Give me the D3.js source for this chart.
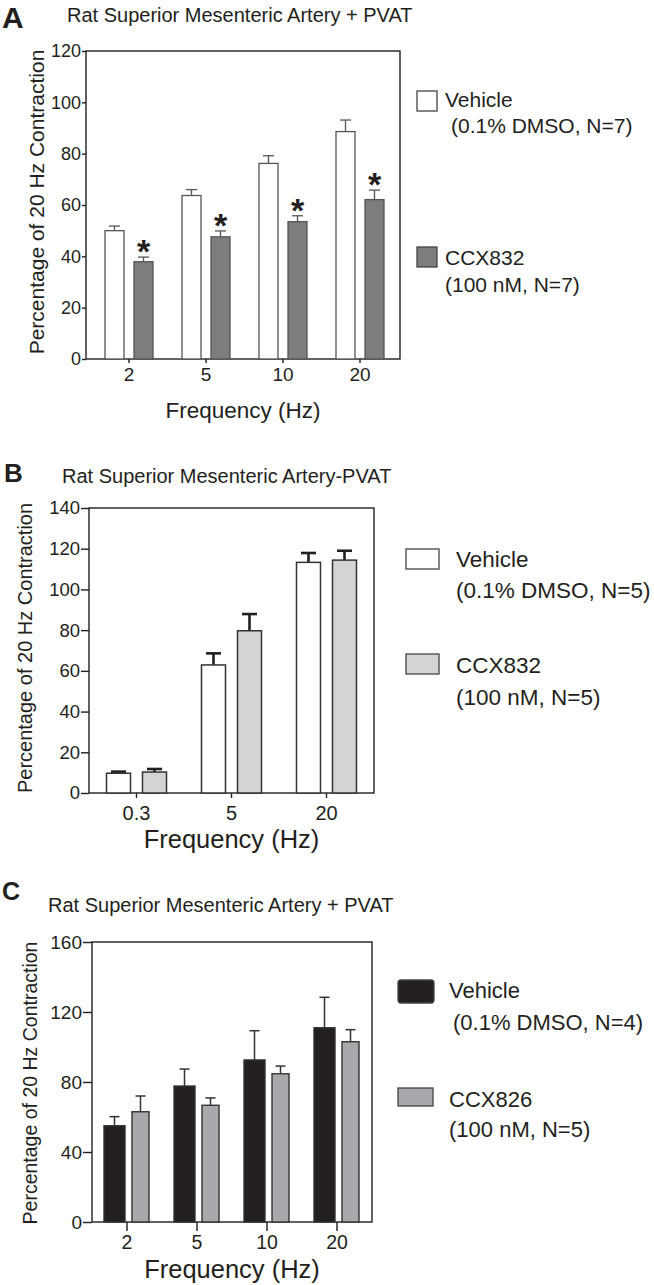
<!DOCTYPE html>
<html>
<head>
<meta charset="utf-8">
<script src="https://cdn.jsdelivr.net/npm/d3@7"></script>
<style>
  body { margin: 0; background: #fff; }
  svg { display: block; font-family: "Liberation Sans", Arial, sans-serif; }
</style>
</head>
<body>
<div id="chart"></div>
<script>
// ---- data ----
const freqA = ["2", "5", "10", "20"];
const vehA = [50, 63.7, 76.2, 88.6];
const vehErrA = [1.8, 2.3, 3.0, 4.5];
const drugA = [37.9, 47.6, 53.5, 62.1];
const drugErrA = [1.8, 2.3, 2.3, 3.7];
const sigA = [true, true, true, true];
const yTicksA = [0, 20, 40, 60, 80, 100, 120];
const legendA = [["Vehicle", "(0.1% DMSO, N=7)"], ["CCX832", "(100 nM, N=7)"]];

const freqB = ["0.3", "5", "20"];
const vehB = [9.7, 62.9, 113.3];
const vehErrB = [0.8, 5.7, 4.6];
const drugB = [10.3, 79.7, 114.4];
const drugErrB = [1.5, 8.2, 4.6];
const sigB = [false, false, false];
const yTicksB = [0, 20, 40, 60, 80, 100, 120, 140];
const legendB = [["Vehicle", "(0.1% DMSO, N=5)"], ["CCX832", "(100 nM, N=5)"]];

const freqC = ["2", "5", "10", "20"];
const vehC = [55.0, 77.7, 92.6, 111.0];
const vehErrC = [5.2, 9.7, 16.7, 17.4];
const drugC = [63.0, 66.7, 84.7, 103.0];
const drugErrC = [9.0, 4.2, 4.4, 6.9];
const sigC = [false, false, false, false];
const yTicksC = [0, 40, 80, 120, 160];
const legendC = [["Vehicle", "(0.1% DMSO, N=4)"], ["CCX826", "(100 nM, N=5)"]];

const ink = "#231f20";

const width = 654, height = 1285;
const svg = d3.select("#chart").append("svg")
    .attr("width", width)
    .attr("height", height)
    .attr("viewBox", [0, 0, width, height]);

const panels = [
  {
    letter: "A", letterSize: 30, letterPos: [2, 28],
    title: "Rat Superior Mesenteric Artery + PVAT", titlePos: [67, 22],
    frame: {left: 86, right: 400, top: 51, bottom: 359}, xRange: [90.5, 398.5],
    freq: freqA, veh: vehA, vehErr: vehErrA, drug: drugA, drugErr: drugErrA, sig: sigA,
    yMax: 120, yTicks: yTicksA,
    barW: [19, 19], gap: 10, shift: 0,
    vehFill: "#fff", drugFill: "#7d7d80", barStroke: "#555", barStrokeW: 1.3,
    errStroke: "#555", errW: 1.3, capHalf: 5.5,
    yTickSize: 4, yTickPad: 1, yTickFont: 18, xTickSize: 4, xTickPad: 5, xTickFont: 19,
    yLabel: {x: 44, y: 202, size: 21},
    xLabel: {y: 418, size: 22.5},
    legend: legendA, legendFont: 21,
    legendBoxes: [{x: 417, y: 91, w: 20, h: 20, fill: "#fff", rx: 0},
                  {x: 417, y: 247, w: 20, h: 20, fill: "#7d7d80", rx: 0}],
    legendText: [[445, 107, 451, 133], [445, 265, 445, 292]]
  },
  {
    letter: "B", letterSize: 26, letterPos: [4, 482],
    title: "Rat Superior Mesenteric Artery-PVAT", titlePos: [62, 483],
    frame: {left: 89, right: 374, top: 508, bottom: 793}, xRange: [89, 374],
    freq: freqB, veh: vehB, vehErr: vehErrB, drug: drugB, drugErr: drugErrB, sig: sigB,
    yMax: 140, yTicks: yTicksB,
    barW: [24, 24], gap: 12, shift: 0,
    vehFill: "#fff", drugFill: "#d4d4d6", barStroke: "#333", barStrokeW: 1.5,
    errStroke: ink, errW: 2.6, capHalf: 7.5,
    yTickSize: 8, yTickPad: 1, yTickFont: 18.5, xTickSize: 5, xTickPad: 8, xTickFont: 20,
    yLabel: {x: 32, y: 648, size: 20},
    xLabel: {y: 848, size: 25.5},
    legend: legendB, legendFont: 22.5,
    legendBoxes: [{x: 406, y: 549, w: 33, h: 20, fill: "#fff", rx: 0},
                  {x: 406, y: 654, w: 33, h: 20, fill: "#d4d4d6", rx: 0}],
    legendText: [[456, 567, 456, 598], [456, 673, 456, 705]]
  },
  {
    letter: "C", letterSize: 25, letterPos: [2, 900],
    title: "Rat Superior Mesenteric Artery + PVAT", titlePos: [48, 912],
    frame: {left: 92, right: 372, top: 942, bottom: 1222}, xRange: [92, 372],
    freq: freqC, veh: vehC, vehErr: vehErrC, drug: drugC, drugErr: drugErrC, sig: sigC,
    yMax: 160, yTicks: yTicksC,
    barW: [21, 17], gap: 7, shift: 1.5,
    vehFill: ink, drugFill: "#a7a9ac", barStroke: "#333", barStrokeW: 1.4,
    errStroke: "#333", errW: 1.5, capHalf: 5,
    yTickSize: 9, yTickPad: 1, yTickFont: 19, xTickSize: 9, xTickPad: 4, xTickFont: 19.5,
    yLabel: {x: 37, y: 1083, size: 19.5},
    xLabel: {y: 1278, size: 25.5},
    legend: legendC, legendFont: 22,
    legendBoxes: [{x: 398, y: 980, w: 36, h: 23, fill: ink, rx: 3},
                  {x: 398, y: 1088, w: 35, h: 18, fill: "#a7a9ac", rx: 0}],
    legendText: [[449, 998, 453, 1030], [449, 1107, 449, 1137]]
  }
];

panels.forEach(drawPanel);

function drawPanel(p) {
  const g = svg.append("g");
  const f = p.frame;

  g.append("text")
      .attr("x", p.letterPos[0]).attr("y", p.letterPos[1])
      .attr("font-size", p.letterSize).attr("font-weight", "bold")
      .attr("fill", ink).text(p.letter);

  g.append("text")
      .attr("x", p.titlePos[0]).attr("y", p.titlePos[1])
      .attr("font-size", 20).attr("fill", ink).text(p.title);

  const x = d3.scaleBand()
      .domain(p.freq)
      .range(p.xRange);

  const y = d3.scaleLinear()
      .domain([0, p.yMax])
      .range([f.bottom, f.top]);

  // y axis
  g.append("g")
      .attr("transform", `translate(${f.left},0)`)
      .call(d3.axisLeft(y).tickValues(p.yTicks).tickSize(p.yTickSize)
            .tickPadding(p.yTickPad).tickSizeOuter(0))
      .call(a => a.select(".domain").remove())
      .call(a => a.selectAll("line").attr("stroke", ink).attr("stroke-width", 1.4))
      .call(a => a.selectAll("text").attr("font-size", p.yTickFont)
            .attr("fill", ink).attr("font-family", "Liberation Sans, Arial, sans-serif"));

  // x axis
  g.append("g")
      .attr("transform", `translate(0,${f.bottom})`)
      .call(d3.axisBottom(x).tickSize(p.xTickSize).tickPadding(p.xTickPad).tickSizeOuter(0))
      .call(a => a.select(".domain").remove())
      .call(a => a.selectAll("line").attr("stroke", ink).attr("stroke-width", 1.4))
      .call(a => a.selectAll("text").attr("font-size", p.xTickFont)
            .attr("fill", ink).attr("font-family", "Liberation Sans, Arial, sans-serif"));

  // frame
  g.append("rect")
      .attr("x", f.left).attr("y", f.top)
      .attr("width", f.right - f.left).attr("height", f.bottom - f.top)
      .attr("fill", "none").attr("stroke", ink).attr("stroke-width", 1.4);

  const rows = p.freq.map((k, i) => ({
    key: k,
    bars: [
      {v: p.veh[i], e: p.vehErr[i], fill: p.vehFill, side: 0, sig: false},
      {v: p.drug[i], e: p.drugErr[i], fill: p.drugFill, side: 1, sig: p.sig[i]}
    ]
  }));

  const barX = (k, side) => {
    const c = x(k) + x.bandwidth() / 2 + p.shift;
    return side === 0 ? c - p.gap / 2 - p.barW[0] : c + p.gap / 2;
  };

  const bar = g.selectAll(".grp")
      .data(rows)
      .join("g")
      .attr("class", "grp")
      .selectAll("g")
      .data(d => d.bars.map(b => ({...b, key: d.key})))
      .join("g");

  // error bars (upper only)
  bar.append("line")
      .attr("x1", d => barX(d.key, d.side) + p.barW[d.side] / 2)
      .attr("x2", d => barX(d.key, d.side) + p.barW[d.side] / 2)
      .attr("y1", d => y(d.v))
      .attr("y2", d => y(d.v + d.e))
      .attr("stroke", p.errStroke).attr("stroke-width", p.errW);

  bar.append("line")
      .attr("x1", d => barX(d.key, d.side) + p.barW[d.side] / 2 - p.capHalf)
      .attr("x2", d => barX(d.key, d.side) + p.barW[d.side] / 2 + p.capHalf)
      .attr("y1", d => y(d.v + d.e))
      .attr("y2", d => y(d.v + d.e))
      .attr("stroke", p.errStroke).attr("stroke-width", p.errW);

  bar.append("rect")
      .attr("x", d => barX(d.key, d.side))
      .attr("width", d => p.barW[d.side])
      .attr("y", d => y(d.v))
      .attr("height", d => y(0) - y(d.v))
      .attr("fill", d => d.fill)
      .attr("stroke", p.barStroke).attr("stroke-width", p.barStrokeW);

  bar.filter(d => d.sig).append("text")
      .attr("x", d => barX(d.key, d.side) + p.barW[d.side] / 2)
      .attr("y", d => y(d.v + d.e) + 6)
      .attr("text-anchor", "middle")
      .attr("font-size", 34).attr("font-weight", "bold")
      .attr("fill", ink).text("*");

  // axis titles
  g.append("text")
      .attr("transform", `translate(${p.yLabel.x},${p.yLabel.y}) rotate(-90)`)
      .attr("text-anchor", "middle")
      .attr("font-size", p.yLabel.size).attr("fill", ink)
      .text("Percentage of 20 Hz Contraction");

  g.append("text")
      .attr("x", (f.left + f.right) / 2).attr("y", p.xLabel.y)
      .attr("text-anchor", "middle")
      .attr("font-size", p.xLabel.size).attr("fill", ink)
      .text("Frequency (Hz)");

  // legend
  p.legendBoxes.forEach((b, i) => {
    g.append("rect")
        .attr("x", b.x).attr("y", b.y).attr("width", b.w).attr("height", b.h)
        .attr("rx", b.rx)
        .attr("fill", b.fill).attr("stroke", "#444").attr("stroke-width", 1.3);
    const t = p.legendText[i];
    g.append("text").attr("x", t[0]).attr("y", t[1])
        .attr("font-size", p.legendFont).attr("fill", ink).text(p.legend[i][0]);
    g.append("text").attr("x", t[2]).attr("y", t[3])
        .attr("font-size", p.legendFont).attr("fill", ink).text(p.legend[i][1]);
  });
}
</script>
</body>
</html>
